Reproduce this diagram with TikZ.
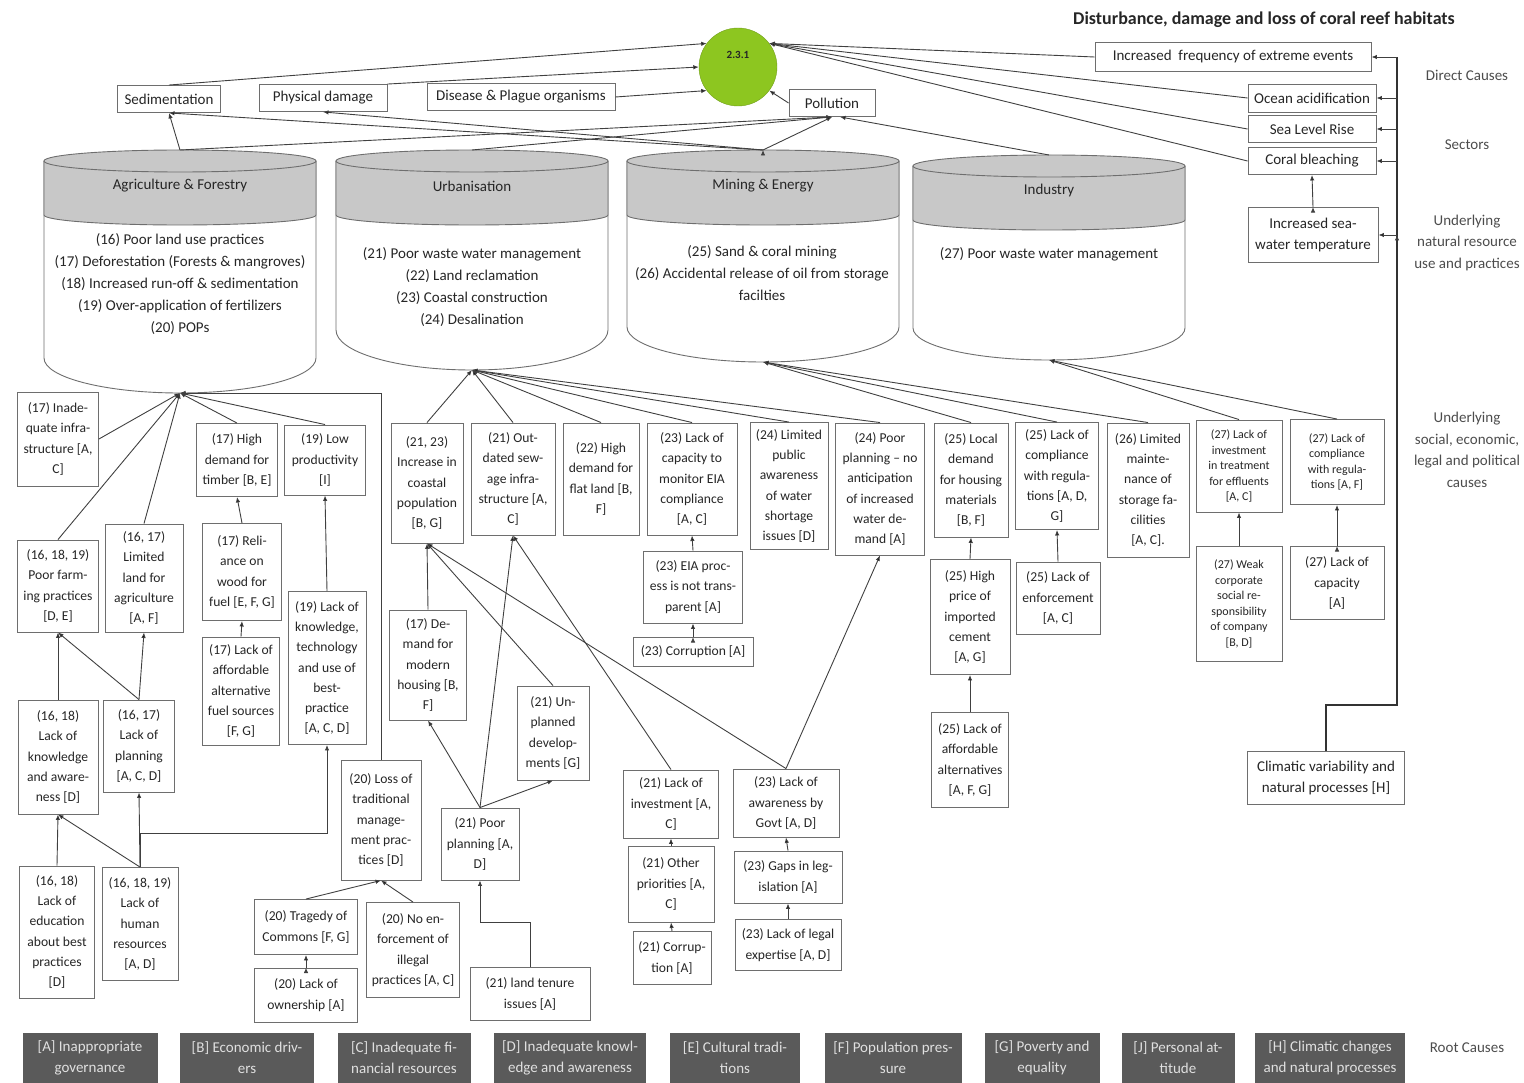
\documentclass[tikz,border=0pt]{standalone}
\usepackage{fontspec}
\setmainfont{Carlito}
\usetikzlibrary{arrows.meta,positioning}
\definecolor{goalgreen}{RGB}{141,198,32}
\definecolor{drumgray}{RGB}{200,200,200}
\definecolor{rootgray}{RGB}{90,90,90}
\definecolor{boxline}{RGB}{110,110,110}

% sector cylinder: name, centre x, top y, side end y, bottom radius, title
\newcommand{\sectordrum}[6]{%
  \draw[drumline, fill=white] (#2-136,#3) -- (#2-136,#4)
     arc[start angle=180, end angle=0, x radius=136, y radius=#5] -- (#2+136,#3);
  \draw[drumline, fill=drumgray] (#2-136,#3) -- (#2-136,#3+54)
     arc[start angle=180, end angle=0, x radius=136, y radius=10] -- (#2+136,#3);
  \draw[drumline, fill=drumgray] (#2,#3) ellipse [x radius=136, y radius=11];
  \node[bigtext] (#1-title) at (#2,#3+25) {#6};
  \coordinate (#1-top) at (#2,#3-11);
  \coordinate (#1-bot) at (#2,#4+#5);
}

\begin{document}
\begin{tikzpicture}[
    x=1pt, y=-1pt,
    >={Latex[length=5.5pt,width=4.5pt]},
    every node/.style={font=\fontsize{13.6}{20.3}\selectfont, text=black!85},
    bigtext/.style={font=\fontsize{15}{21}\selectfont},
    cause/.style={draw=boxline, line width=0.9pt, fill=white, align=center, inner sep=2pt},
    direct/.style={cause, bigtext, minimum height=27},
    tight/.style={font=\fontsize{12}{15.5}\selectfont},
    rootcause/.style={fill=rootgray, align=center, minimum height=50, inner sep=2pt, text=white!88!black, bigtext},
    sidelabel/.style={align=center, text=black!70, font=\fontsize{15}{21.5}\selectfont},
    drumline/.style={draw=boxline, line width=0.9pt},
    drumtext/.style={align=center, font=\fontsize{15}{21.8}\selectfont},
    link/.style={->, draw=black!75, line width=0.9pt},
    rail/.style={draw=black!80, line width=2.4pt}
]
\useasboundingbox (0,0) rectangle (1524,1083);

\node[font=\bfseries\fontsize{18}{21}\selectfont] (title) at (1264,20) {Disturbance, damage and loss of coral reef habitats};

% sectors
\sectordrum{agri}{180}{161}{358}{35}{Agriculture \& Forestry}
\sectordrum{urb}{472}{161}{330}{40}{Urbanisation}
\sectordrum{min}{763}{161}{327}{35}{Mining \& Energy}
\sectordrum{ind}{1049}{166}{328}{32}{Industry}
\node[drumtext] (agri-list) at (180,284) {(16) Poor land use practices\\(17) Deforestation (Forests \& mangroves)\\(18) Increased run-off \& sedimentation\\(19) Over-application of fertilizers\\(20) POPs};
\node[drumtext] (urb-list) at (472,287) {(21) Poor waste water management\\(22) Land reclamation\\(23) Coastal construction\\(24) Desalination};
\node[drumtext] (min-list) at (762,273) {(25) Sand \& coral mining\\(26) Accidental release of oil from storage\\facilties};
\node[drumtext] (ind-list) at (1049,254) {(27) Poor waste water management};

% goal and direct causes
\node[circle, fill=goalgreen, draw=goalgreen!80!black, minimum size=78, inner sep=0] (goal) at (738,67) {};
\node[font=\bfseries\fontsize{11}{13}\selectfont] (goal-label) at (738,55) {2.3.1};
\node[direct, minimum width=103] (sed) at (169,99) {Sedimentation};
\node[direct, minimum width=128] (phys) at (323,98) {Physical damage};
\node[direct, minimum width=188] (dis) at (521,97) {Disease \& Plague organisms};
\node[direct, minimum width=86] (poll) at (832,103) {Pollution};
\node[direct, minimum width=276, minimum height=29] (ext) at (1233,57) {Increased\ \ frequency of extreme events};
\node[direct, minimum width=128, minimum height=28] (ocean) at (1312,98) {Ocean acidification};
\node[direct, minimum width=128] (slr) at (1312,129) {Sea Level Rise};
\node[direct, minimum width=128] (bleach) at (1312,161) {Coral bleaching};
\node[cause, bigtext, minimum width=130, minimum height=55] (temp) at (1313,235) {Increased sea-\\water temperature};
\node[cause, bigtext, minimum width=157, minimum height=53] (clim) at (1326,778) {Climatic variability and\\natural processes [H]};

% agriculture causes
\node[cause, minimum width=81, minimum height=94] (A1) at (58,439) {(17) Inade-\\quate infra-\\structure [A,\\C]};
\node[cause, minimum width=81, minimum height=73] (A2) at (237,460) {(17) High\\demand for\\timber [B, E]};
\node[cause, minimum width=81, minimum height=70] (A3) at (325,460) {(19) Low\\productivity\\{}[I]};
\node[cause, minimum width=81, minimum height=92] (A4) at (58,586) {(16, 18, 19)\\Poor farm-\\ing practices\\{}[D, E]};
\node[cause, minimum width=78, minimum height=108] (A5) at (144,578) {(16, 17)\\Limited\\land for\\agriculture\\{}[A, F]};
\node[cause, minimum width=79, minimum height=97] (A6) at (242,572) {(17) Reli-\\ance on\\wood for\\fuel [E, F, G]};
\node[cause, minimum width=77, minimum height=108] (A7) at (241,691) {(17) Lack of\\affordable\\alternative\\fuel sources\\{}[F, G]};
\node[cause, minimum width=78, minimum height=153] (A8) at (327,668) {(19) Lack of\\knowledge,\\technology\\and use of\\best-\\practice\\{}[A, C, D]};
\node[cause, minimum width=80, minimum height=114] (A9) at (58,757) {(16, 18)\\Lack of\\knowledge\\and aware-\\ness [D]};
\node[cause, minimum width=71, minimum height=92] (A10) at (139,746) {(16, 17)\\Lack of\\planning\\{}[A, C, D]};
\node[cause, minimum width=75, minimum height=132] (A11) at (57,932) {(16, 18)\\Lack of\\education\\about best\\practices\\{}[D]};
\node[cause, minimum width=76, minimum height=113] (A12) at (140,924) {(16, 18, 19)\\Lack of\\human\\resources\\{}[A, D]};
\node[cause, minimum width=80, minimum height=120] (A13) at (381,820) {(20) Loss of\\traditional\\manage-\\ment prac-\\tices [D]};
\node[cause, minimum width=103, minimum height=55] (A14) at (306,927) {(20) Tragedy of\\Commons [F, G]};
\node[cause, minimum width=93, minimum height=95] (A15) at (413,950) {(20) No en-\\forcement of\\illegal\\practices [A, C]};
\node[cause, minimum width=103, minimum height=54] (A16) at (306,995) {(20) Lack of\\ownership [A]};

% urbanisation causes
\node[cause, minimum width=72, minimum height=120] (U1) at (427,483) {(21, 23)\\Increase in\\coastal\\population\\{}[B, G]};
\node[cause, minimum width=84, minimum height=112] (U2) at (513,479) {(21) Out-\\dated sew-\\age infra-\\structure [A,\\C]};
\node[cause, minimum width=76, minimum height=112] (U3) at (601,479) {(22) High\\demand for\\flat land [B,\\F]};
\node[cause, minimum width=90, minimum height=112] (U4) at (692,479) {(23) Lack of\\capacity to\\monitor EIA\\compliance\\{}[A, C]};
\node[cause, minimum width=78, minimum height=127] (U5) at (789,486) {(24) Limited\\public\\awareness\\of water\\shortage\\issues [D]};
\node[cause, minimum width=89, minimum height=132] (U6) at (880,489) {(24) Poor\\planning -- no\\anticipation\\of increased\\water de-\\mand [A]};
\node[cause, minimum width=77, minimum height=110] (U7) at (428,665) {(17) De-\\mand for\\modern\\housing [B,\\F]};
\node[cause, minimum width=72, minimum height=94] (U8) at (553,733) {(21) Un-\\planned\\develop-\\ments [G]};
\node[cause, minimum width=78, minimum height=72] (U9) at (480,844) {(21) Poor\\planning [A,\\D]};
\node[cause, minimum width=120, minimum height=53] (U10) at (530,994) {(21) land tenure\\issues [A]};
\node[cause, minimum width=95, minimum height=68] (U11) at (671,804) {(21) Lack of\\investment [A,\\C]};
\node[cause, minimum width=106, minimum height=68] (U12) at (786,803) {(23) Lack of\\awareness by\\Govt [A, D]};
\node[cause, minimum width=86, minimum height=76] (U13) at (671,884) {(21) Other\\priorities [A,\\C]};
\node[cause, minimum width=78, minimum height=53] (U14) at (672,958) {(21) Corrup-\\tion [A]};
\node[cause, minimum width=108, minimum height=52] (U15) at (788,877) {(23) Gaps in leg-\\islation [A]};
\node[cause, minimum width=106, minimum height=51] (U16) at (788,945) {(23) Lack of legal\\expertise [A, D]};
\node[cause, minimum width=99, minimum height=72] (U17) at (693,587) {(23) EIA proc-\\ess is not trans-\\parent [A]};
\node[cause, minimum width=120, minimum height=29] (U18) at (693,652) {(23) Corruption [A]};

% mining and industry causes
\node[cause, minimum width=74, minimum height=114] (M1) at (971,480) {(25) Local\\demand\\for housing\\materials\\{}[B, F]};
\node[cause, minimum width=83, minimum height=107] (M2) at (1057,476) {(25) Lack of\\compliance\\with regula-\\tions [A, D,\\G]};
\node[cause, minimum width=82, minimum height=134] (M3) at (1148,490) {(26) Limited\\mainte-\\nance of\\storage fa-\\cilities\\{}[A, C].};
\node[cause, minimum width=80, minimum height=115] (M4) at (970,617) {(25) High\\price of\\imported\\cement\\{}[A, G]};
\node[cause, minimum width=84, minimum height=72] (M5) at (1058,598) {(25) Lack of\\enforcement\\{}[A, C]};
\node[cause, minimum width=77, minimum height=95] (M6) at (970,760) {(25) Lack of\\affordable\\alternatives\\{}[A, F, G]};
\node[cause, tight, minimum width=86, minimum height=92] (I1) at (1239,466) {(27) Lack of\\investment\\in treatment\\for effluents\\{}[A, C]};
\node[cause, tight, minimum width=94, minimum height=85] (I2) at (1337,462) {(27) Lack of\\compliance\\with regula-\\tions [A, F]};
\node[cause, tight, minimum width=86, minimum height=115] (I3) at (1239,604) {(27) Weak\\corporate\\social re-\\sponsibility\\of company\\{}[B, D]};
\node[cause, minimum width=94, minimum height=73] (I4) at (1337,583) {(27) Lack of\\capacity\\{}[A]};

% root causes
\node[rootcause, minimum width=135] (rootA) at (90,1058) {[A] Inappropriate\\governance};
\node[rootcause, minimum width=134] (rootB) at (247,1058) {[B] Economic driv-\\ers};
\node[rootcause, minimum width=133] (rootC) at (404,1058) {[C] Inadequate fi-\\nancial resources};
\node[rootcause, minimum width=152] (rootD) at (570,1058) {[D] Inadequate knowl-\\edge and awareness};
\node[rootcause, minimum width=130] (rootE) at (735,1058) {[E] Cultural tradi-\\tions};
\node[rootcause, minimum width=137] (rootF) at (893,1058) {[F] Population pres-\\sure};
\node[rootcause, minimum width=115] (rootG) at (1042,1058) {[G] Poverty and\\equality};
\node[rootcause, minimum width=113] (rootJ) at (1178,1058) {[J] Personal at-\\titude};
\node[rootcause, minimum width=150] (rootH) at (1330,1058) {[H] Climatic changes\\and natural processes};

% level labels
\node[sidelabel] (lab-direct) at (1467,75) {Direct Causes};
\node[sidelabel] (lab-sectors) at (1467,145) {Sectors};
\node[sidelabel] (lab-natural) at (1467,243) {Underlying\\natural resource\\use and practices};
\node[sidelabel] (lab-social) at (1467,450) {Underlying\\social, economic,\\legal and political\\causes};
\node[sidelabel] (lab-root) at (1467,1048) {Root Causes};

% into the goal
\draw [link]
(sed.north) edge (goal.143)
(phys.north east) edge (goal.west)
(dis.east) edge (goal.217)
(poll.west) edge (goal.-37)
(ext.west) edge (goal.37)
(ocean.west) edge (goal.37)
(slr.west) edge (goal.37)
(bleach.west) edge (goal.37)
(temp.north) edge (bleach.south);

% sectors to direct causes
\draw [link]
(agri-top) edge (sed.south)
(agri-top) edge (poll.south)
(urb-top) edge (poll.south)
(min-top) edge (poll.south)
(ind-top) edge (poll.-60)
(min-top) edge (sed.south)
(min-top) edge (phys.south);

% climatic rail
\coordinate (bend) at (1397,705);
\draw[rail] (clim.north) |- (bend) -- (bend |- ext.east);
\draw [link]
(bend |- ext.east) edge (ext.east)
(bend |- ocean.east) edge (ocean.east)
(bend |- slr.east) edge (slr.east)
(bend |- bleach.east) edge (bleach.east)
(bend |- temp.east) edge (temp.east);

% agriculture
\draw [link]
(A1.east) edge (agri-bot)
(A2.north) edge (agri-bot)
(A3.north) edge (agri-bot)
(A4.north) edge (agri-bot)
(A5.north) edge (agri-bot)
(A6.north) edge (A2.south)
(A7.north) edge (A6.south)
(A8.north) edge (A3.south)
(A9.north) edge (A4.south)
(A10.north) edge (A4.south)
(A10.north) edge (A5.south)
(A11.north) edge (A9.south)
(A12.north) edge (A9.south)
(A12.north) edge (A10.south)
(A14.north) edge (A13.south)
(A15.north) edge (A13.south)
(A16.north) edge (A14.south);
\draw[link] (A13.north) |- (agri-bot);
\draw[link] (A12.north) -- ++(0,-34) -| (A8.south);

% urbanisation
\draw [link]
(U1.north) edge (urb-bot)
(U2.north) edge (urb-bot)
(U3.north) edge (urb-bot)
(U4.north) edge (urb-bot)
(U5.north) edge (urb-bot)
(U6.north) edge (urb-bot)
(U7.north) edge (U1.south)
(U8.north) edge (U1.south)
(U12.north) edge (U1.south)
(U9.north) edge (U7.south)
(U9.north) edge (U2.south)
(U9.north) edge (U8.south)
(U11.north) edge (U2.south)
(U12.north) edge (U6.south)
(U13.north) edge (U11.south)
(U14.north) edge (U13.south)
(U15.north) edge (U12.south)
(U16.north) edge (U15.south)
(U17.north) edge (U4.south)
(U18.north) edge (U17.south);
\draw[link] (U10.north) -- ++(0,-45) -| (U9.south);

% mining and industry
\draw [link]
(M1.north) edge (min-bot)
(M2.north) edge (min-bot)
(M3.north) edge (min-bot)
(M4.north) edge (M1.south)
(M5.north) edge (M2.south)
(M6.north) edge (M4.south)
(I1.north) edge (ind-bot)
(I2.north) edge (ind-bot)
(I3.north) edge (I1.south)
(I4.north) edge (I2.south);
\end{tikzpicture}
\end{document}
